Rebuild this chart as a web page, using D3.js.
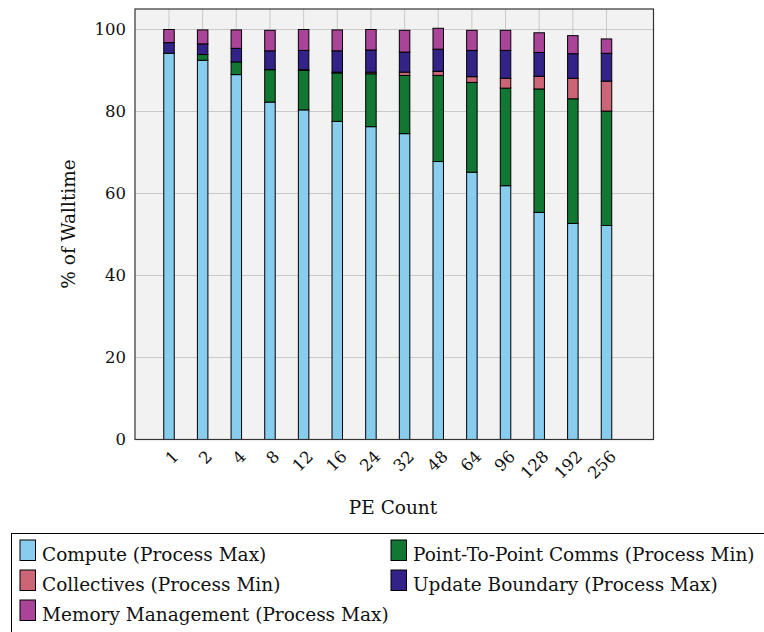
<!DOCTYPE html>
<html>
<head>
<meta charset="utf-8">
<script src="https://cdn.jsdelivr.net/npm/d3@7"></script>
<style>
  html, body { margin: 0; padding: 0; background: #ffffff; }
  svg { display: block; font-family: "DejaVu Serif", serif; }
</style>
</head>
<body>
<svg id="chart" width="764" height="632"></svg>
<script>
// PE counts along the x axis
const peCounts = ["1", "2", "4", "8", "12", "16", "24", "32", "48", "64", "96", "128", "192", "256"];

// Share of walltime (%) per phase, stacked bottom to top
const compute     = [94.2, 92.5, 89.0, 82.3, 80.4, 77.6, 76.3, 74.6, 67.8, 65.2, 61.9, 55.4, 52.7, 52.2];
const pointToPoint = [0.0, 1.4, 3.1, 7.9, 9.6, 11.8, 12.9, 14.2, 21.0, 21.9, 23.8, 30.1, 30.4, 27.9];
const collectives = [0.0, 0.0, 0.0, 0.0, 0.2, 0.2, 0.4, 0.8, 1.0, 1.4, 2.4, 3.1, 5.0, 7.3];
const updateBoundary = [2.6, 2.6, 3.3, 4.6, 4.7, 5.2, 5.4, 4.9, 5.4, 6.4, 6.8, 5.8, 6.0, 6.8];
const memoryMgmt  = [3.2, 3.4, 4.5, 5.0, 5.1, 5.1, 5.0, 5.3, 5.1, 4.9, 4.9, 4.8, 4.4, 3.5];

const yTicks = [0, 20, 40, 60, 80, 100];

const seriesDefs = [
  { key: "compute",  label: "Compute (Process Max)",              values: compute,        color: "#88CCEE" },
  { key: "p2p",      label: "Point-To-Point Comms (Process Min)", values: pointToPoint,   color: "#117733" },
  { key: "coll",     label: "Collectives (Process Min)",          values: collectives,    color: "#CC6677" },
  { key: "update",   label: "Update Boundary (Process Max)",      values: updateBoundary, color: "#332288" },
  { key: "memory",   label: "Memory Management (Process Max)",    values: memoryMgmt,     color: "#AA4499" }
];

const rows = peCounts.map((pe, i) => {
  const r = { pe };
  seriesDefs.forEach(s => { r[s.key] = s.values[i]; });
  return r;
});

const svg = d3.select("#chart");

const frame = { left: 135, right: 653.5, top: 9, bottom: 439.5 };

const x = d3.scalePoint().domain(peCounts).range([169, 606.5]);
const y = d3.scaleLinear().domain([0, 105]).range([frame.bottom, frame.top]);

// plot background
svg.append("rect")
  .attr("x", frame.left).attr("y", frame.top)
  .attr("width", frame.right - frame.left).attr("height", frame.bottom - frame.top)
  .attr("fill", "#f2f2f2");

// grid
const grid = svg.append("g").attr("stroke", "#c9c9c9").attr("stroke-width", 1);
grid.selectAll("line.h").data(yTicks).join("line")
  .attr("x1", frame.left).attr("x2", frame.right)
  .attr("y1", d => y(d)).attr("y2", d => y(d));
grid.selectAll("line.v").data(peCounts).join("line")
  .attr("x1", d => x(d)).attr("x2", d => x(d))
  .attr("y1", frame.top).attr("y2", frame.bottom);

// stacked bars
const stack = d3.stack().keys(seriesDefs.map(s => s.key));
const layers = stack(rows);
const barW = 10.5;

svg.append("g").selectAll("g").data(layers).join("g")
  .attr("fill", (d, i) => seriesDefs[i].color)
  .selectAll("rect").data(d => d.filter(seg => seg[1] - seg[0] > 0)).join("rect")
  .attr("x", d => x(d.data.pe) - barW / 2)
  .attr("width", barW)
  .attr("y", d => y(d[1]))
  .attr("height", d => y(d[0]) - y(d[1]))
  .attr("stroke", "#000")
  .attr("stroke-width", 1);

// frame
svg.append("rect")
  .attr("x", frame.left).attr("y", frame.top)
  .attr("width", frame.right - frame.left).attr("height", frame.bottom - frame.top)
  .attr("fill", "none").attr("stroke", "#333").attr("stroke-width", 1.2);

// y axis labels
const yAxis = d3.axisLeft(y).tickValues(yTicks).tickSize(0).tickPadding(9);
svg.append("g")
  .attr("transform", `translate(${frame.left},0)`)
  .call(yAxis)
  .call(g => g.select(".domain").remove())
  .call(g => g.selectAll("text")
    .attr("font-family", "DejaVu Serif, serif")
    .attr("font-size", 16.5)
    .attr("fill", "#111"));

// x axis labels (rotated)
const xAxis = d3.axisBottom(x).tickSize(0).tickPadding(0);
svg.append("g")
  .attr("transform", `translate(0,${frame.bottom})`)
  .call(xAxis)
  .call(g => g.select(".domain").remove())
  .call(g => g.selectAll("text")
    .attr("font-family", "DejaVu Serif, serif")
    .attr("font-size", 16.5)
    .attr("fill", "#111")
    .attr("text-anchor", "end")
    .attr("dy", "0.35em")
    .attr("transform", "translate(6,14) rotate(-45)"));

// axis titles
svg.append("text")
  .attr("x", 393).attr("y", 514)
  .attr("text-anchor", "middle")
  .attr("font-size", 18.5).attr("fill", "#111")
  .text("PE Count");

svg.append("text")
  .attr("transform", "translate(75,224) rotate(-90)")
  .attr("text-anchor", "middle")
  .attr("font-size", 18.5).attr("fill", "#111")
  .text("% of Walltime");

// legend
const legend = svg.append("g");
legend.append("rect")
  .attr("x", 11.5).attr("y", 533.5)
  .attr("width", 800).attr("height", 110)
  .attr("fill", "#fff").attr("stroke", "#000").attr("stroke-width", 1);

const legendPos = [
  { x: 20, y: 540 }, { x: 391, y: 540 },
  { x: 20, y: 570 }, { x: 391, y: 570 },
  { x: 20, y: 600 }
];
const legendOrder = ["compute", "p2p", "coll", "update", "memory"];
legendOrder.forEach((k, i) => {
  const s = seriesDefs.find(d => d.key === k);
  const p = legendPos[i];
  legend.append("rect")
    .attr("x", p.x).attr("y", p.y)
    .attr("width", 15.5).attr("height", 20.5)
    .attr("fill", s.color).attr("stroke", "#000").attr("stroke-width", 1);
  legend.append("text")
    .attr("x", p.x + 22).attr("y", p.y + 20.5)
    .attr("font-size", 18.5).attr("fill", "#111")
    .text(s.label);
});
</script>
</body>
</html>
